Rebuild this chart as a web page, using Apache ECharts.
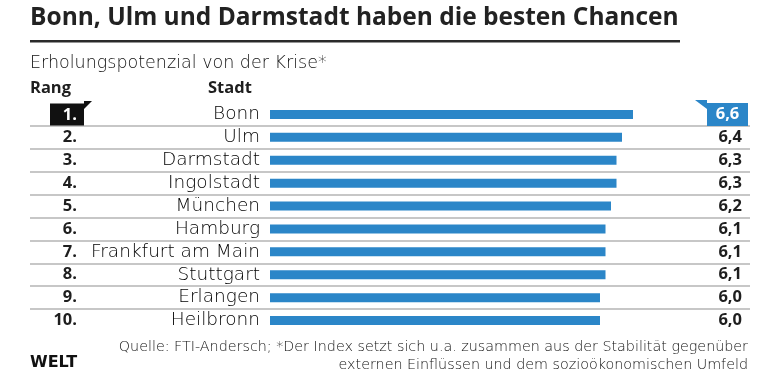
<!DOCTYPE html>
<html><head><meta charset="utf-8">
<script src="https://cdn.jsdelivr.net/npm/echarts@6/dist/echarts.min.js"></script>
<style>html,body{margin:0;padding:0;background:#fff}#c{width:780px;height:391px}</style>
</head><body><div id="c"></div>
<script>
const ranks = ['1.','2.','3.','4.','5.','6.','7.','8.','9.','10.'];
const cities = ['Bonn','Ulm','Darmstadt','Ingolstadt','München','Hamburg','Frankfurt am Main','Stuttgart','Erlangen','Heilbronn'];
const values = [6.6,6.4,6.3,6.3,6.2,6.1,6.1,6.1,6.0,6.0];
const valueLabels = values.map(v => v.toFixed(1).replace('.', ','));

const titleText = 'Bonn, Ulm und Darmstadt haben die besten Chancen';
const subtitleText = 'Erholungspotenzial von der Krise*';
const footer1 = 'Quelle: FTI-Andersch; *Der Index setzt sich u.a. zusammen aus der Stabilität gegenüber';
const footer2 = 'externen Einflüssen und dem sozioökonomischen Umfeld';

const BLUE = '#2b86c8';
const DARK = '#1e1e1e';
const LIGHT = 'DejaVu Sans';
const BOLD = 'Open Sans';

const chart = echarts.init(document.getElementById('c'), null, {renderer:'canvas'});
chart.setOption({
  backgroundColor: '#fff',
  animation: false,
  grid: [
    {left: 270, top: 103, width: 440, height: 229},
    {left: 30, top: 103, width: 720, height: 229}
  ],
  xAxis: [
    {gridIndex: 0, type: 'value', min: 0, max: 8, show: false},
    {gridIndex: 1, type: 'value', min: 0, max: 1, show: false}
  ],
  yAxis: [
    {gridIndex: 0, type: 'category', data: cities, inverse: true,
     axisLine: {show: false}, axisTick: {show: false}, splitLine: {show: false},
     axisLabel: {margin: 10, fontFamily: LIGHT, fontWeight: 200, fontSize: 18.5, color: '#000', interval: 0}},
    {gridIndex: 0, type: 'category', data: ranks, inverse: true, position: 'left', offset: 186,
     axisLine: {show: false}, axisTick: {show: false}, splitLine: {show: false},
     axisLabel: {margin: 0, interval: 0,
       formatter: (v, i) => i === 0 ? '{hi|' + v + '}' : '{n|' + v + '}',
       rich: {
         n: {width: 27, align: 'right', padding: [0, 7, 0, 0], fontFamily: BOLD, fontWeight: 700, fontSize: 16.5, color: DARK},
         hi: {width: 27, align: 'right', padding: [3, 7, 2, 0], backgroundColor: '#111', fontFamily: BOLD, fontWeight: 700, fontSize: 16.5, color: '#fff', lineHeight: 18}
       }}},
    {gridIndex: 0, type: 'category', data: valueLabels, inverse: true, position: 'right',
     axisLine: {show: false}, axisTick: {show: false}, splitLine: {show: false},
     axisLabel: {margin: -3, interval: 0,
       formatter: (v, i) => i === 0 ? '{hi|' + v + '}' : '{n|' + v + '}',
       rich: {
         n: {width: 35, align: 'right', fontFamily: BOLD, fontWeight: 700, fontSize: 16.5, color: DARK},
         hi: {width: 41, align: 'center', padding: [3, 0, 3, 0], backgroundColor: BLUE, fontFamily: BOLD, fontWeight: 700, fontSize: 16.5, color: '#fff', lineHeight: 18}
       }}},
    {gridIndex: 1, type: 'category', data: cities, inverse: true,
     axisLine: {show: false}, axisTick: {show: false}, axisLabel: {show: false},
     splitLine: {show: true, interval: 0, showMinLine: false, showMaxLine: false,
       lineStyle: {color: '#b4b4b4', width: 1.5}}}
  ],
  series: [
    {type: 'bar', xAxisIndex: 0, yAxisIndex: 0, data: values, barWidth: 9,
     itemStyle: {color: BLUE}, silent: true}
  ],
  graphic: [
    {type: 'text', left: 30, top: 6, style: {text: titleText, fontFamily: BOLD, fontWeight: 700, fontSize: 24.5, fill: '#222'}},
    {type: 'rect', shape: {x: 30, y: 40, width: 650, height: 2.5}, style: {fill: '#2a2a2a'}},
    {type: 'text', left: 30, top: 54, style: {text: subtitleText, fontFamily: LIGHT, fontWeight: 200, fontSize: 17.5, fill: '#111'}},
    {type: 'text', left: 30, top: 80, style: {text: 'Rang', fontFamily: BOLD, fontWeight: 700, fontSize: 16.5, fill: DARK}},
    {type: 'text', left: 208, top: 80, style: {text: 'Stadt', fontFamily: BOLD, fontWeight: 700, fontSize: 16.5, fill: DARK}},
    {type: 'polygon', shape: {points: [[84, 101], [92, 101], [84, 109]]}, style: {fill: '#111'}},
    {type: 'polygon', shape: {points: [[695, 100], [707, 100], [707, 109]]}, style: {fill: BLUE}},
    {type: 'text', right: 32, top: 340, style: {text: footer1, fontFamily: LIGHT, fontWeight: 200, fontSize: 14.3, fill: '#111'}},
    {type: 'text', right: 32, top: 358, style: {text: footer2, fontFamily: LIGHT, fontWeight: 200, fontSize: 14.3, fill: '#111'}},
    {type: 'text', left: 30, top: 355, style: {text: 'WELT', fontFamily: 'DejaVu Sans', fontWeight: 700, fontSize: 16, fill: '#111'}}
  ]
});
</script></body></html>
